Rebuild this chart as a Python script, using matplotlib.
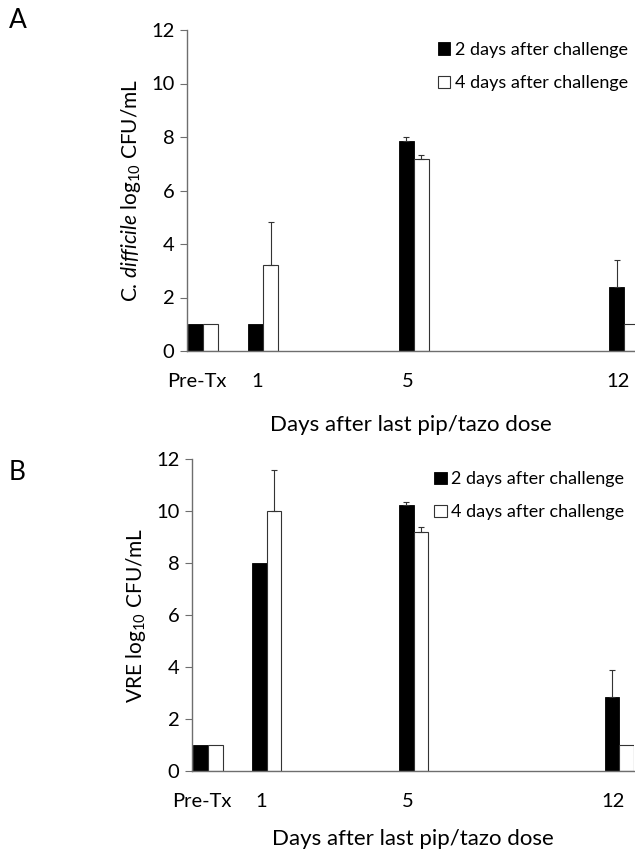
import matplotlib
matplotlib.use("Agg")
import matplotlib.pyplot as plt
import numpy as np

plt.rcParams['font.family'] = ['Lato', 'DejaVu Sans']
plt.rcParams['mathtext.fontset'] = 'custom'
plt.rcParams['mathtext.rm'] = 'Lato'
plt.rcParams['mathtext.it'] = 'Lato:italic'

categories = ["Pre-Tx", "1", "5", "12"]
series_names = ["2 days after challenge", "4 days after challenge"]

# Panel A: C. difficile
a_day2 = [1.0, 1.0, 7.85, 2.40]
a_day2_err = [0.0, 0.0, 0.14, 1.00]
a_day4 = [1.0, 3.21, 7.17, 1.0]
a_day4_err = [0.0, 1.61, 0.17, 0.0]

# Panel B: VRE
b_day2 = [1.0, 8.0, 10.24, 2.85]
b_day2_err = [0.0, 0.0, 0.13, 1.03]
b_day4 = [1.0, 10.0, 9.21, 1.0]
b_day4_err = [0.0, 1.57, 0.19, 0.0]

yticks = [0, 2, 4, 6, 8, 10, 12]

# layout (slot positions on the category axis)
slots = np.array([0, 2, 7, 14])
bw = 0.5

fig = plt.figure(figsize=(6.35, 8.51), dpi=100)
axA = fig.add_axes([187/635, 500/851, 448/635, 321/851])
axB = fig.add_axes([192/635, 80.3/851, 442/635, 311.4/851])

spine_col = '#6e6e6e'

def draw(ax, d2, e2, d4, e4, xlim, ylabel, tickpad, xlabpad, leg_anchor):
    ax.bar(slots - bw/2, d2, bw, color='black', edgecolor='black', linewidth=0.6,
           label=series_names[0], zorder=2)
    ax.bar(slots + bw/2, d4, bw, color='white', edgecolor='#333333', linewidth=0.8,
           label=series_names[1], zorder=2)
    for xs, vals, errs in ((slots - bw/2, d2, e2), (slots + bw/2, d4, e4)):
        xs_e = [x for x, e in zip(xs, errs) if e > 0]
        v_e = [v for v, e in zip(vals, errs) if e > 0]
        er = [e for e in errs if e > 0]
        ax.errorbar(xs_e, v_e, yerr=[np.zeros(len(er)), er], fmt='none',
                    ecolor='#333333', elinewidth=0.8, capsize=2.5, capthick=0.8, zorder=3)
    ax.set_xlim(*xlim)
    ax.set_ylim(0, 12)
    ax.set_yticks(yticks)
    ax.set_yticklabels([str(t) for t in yticks], fontsize=14.5)
    ax.set_xticks(slots - 0.2)
    ax.set_xticklabels(categories, fontsize=14.5)
    ax.tick_params(axis='x', length=0, pad=tickpad)
    ax.tick_params(axis='y', length=5, width=0.8, color=spine_col, direction='out', pad=4)
    for s in ('top', 'right'):
        ax.spines[s].set_visible(False)
    for s in ('left', 'bottom'):
        ax.spines[s].set_color(spine_col)
        ax.spines[s].set_linewidth(1.0)
    ax.set_ylabel(ylabel, fontsize=15, labelpad=6)
    ax.set_xlabel("Days after last pip/tazo dose", fontsize=16, labelpad=xlabpad)
    ax.legend(loc='upper right', bbox_to_anchor=leg_anchor, frameon=False,
              fontsize=13, handlelength=0.7, handleheight=0.7,
              handletextpad=0.25, labelspacing=0.95, borderaxespad=0.0)

draw(axA, a_day2, a_day2_err, a_day4, a_day4_err, (-0.53, 14.35),
     r'C. $\mathit{difficile}$ log$_{10}$ CFU/mL', 16, 18, (1.0, 0.985))
draw(axB, b_day2, b_day2_err, b_day4, b_day4_err, (-0.54, 14.5),
     r'VRE log$_{10}$ CFU/mL', 16, 14, (0.995, 0.985))

fig.text(9/635, 1 - 21/851, "A", fontsize=19, va='center', ha='left')
fig.text(9/635, 1 - 473/851, "B", fontsize=19, va='center', ha='left')

fig.savefig("out.png", dpi=100)
